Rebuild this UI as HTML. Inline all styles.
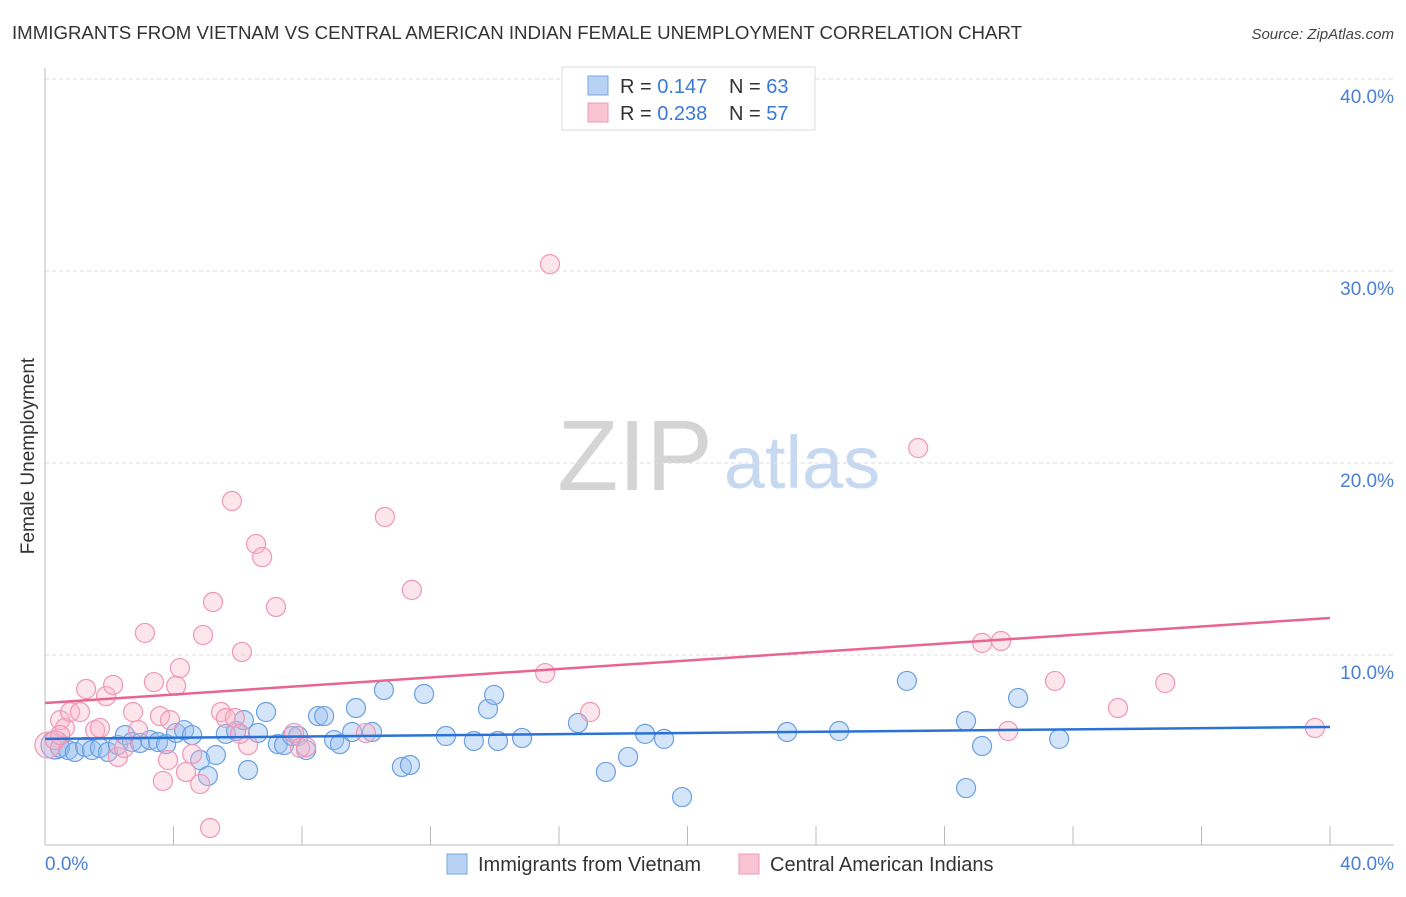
<!DOCTYPE html>
<html><head><meta charset="utf-8"><style>
body{margin:0;background:#fff;font-family:"Liberation Sans",sans-serif;}
svg text{font-family:"Liberation Sans",sans-serif;}
</style></head><body>
<svg id="chart" width="1406" height="892" viewBox="0 0 1406 892" xmlns="http://www.w3.org/2000/svg">
<text x="12" y="39" font-size="18" fill="#333" textLength="1010" lengthAdjust="spacingAndGlyphs">IMMIGRANTS FROM VIETNAM VS CENTRAL AMERICAN INDIAN FEMALE UNEMPLOYMENT CORRELATION CHART</text>
<text x="1394" y="39" font-size="15" fill="#444" font-style="italic" text-anchor="end">Source: ZipAtlas.com</text>
<g>
<text x="635" y="490" font-size="100" fill="#d4d4d4" font-family="Liberation Serif,serif" text-anchor="middle">ZIP</text>
<text x="802" y="488" font-size="74" fill="#c6d9f0" text-anchor="middle">atlas</text>
</g>
<g id="grid"></g>
<g id="axes"></g>
<g id="marks"></g>
<g id="trends"></g>
<text transform="translate(34,456) rotate(-90)" font-size="19" fill="#333" text-anchor="middle">Female Unemployment</text>
<text x="45" y="870" font-size="19" fill="#4a7fd4">0.0%</text>
<text x="1394" y="870" font-size="19" fill="#4a7fd4" text-anchor="end">40.0%</text>
<g>
<rect x="562" y="67" width="253" height="63" fill="#fff" stroke="#ddd"/>
<rect x="588" y="76" width="20" height="19" fill="#b8d2f3" stroke="#7aa7e0"/>
<rect x="588" y="103" width="20" height="19" fill="#f9c4d4" stroke="#ef9ab6"/>
<text x="620" y="93" font-size="20" fill="#333">R = <tspan fill="#3a78d8">0.147</tspan></text>
<text x="729" y="93" font-size="20" fill="#333">N = <tspan fill="#3a78d8">63</tspan></text>
<text x="620" y="120" font-size="20" fill="#333">R = <tspan fill="#3a78d8">0.238</tspan></text>
<text x="729" y="120" font-size="20" fill="#333">N = <tspan fill="#3a78d8">57</tspan></text>
</g>
<g>
<rect x="447" y="854" width="20" height="20" fill="#b8d2f3" stroke="#7aa7e0"/>
<text x="478" y="871" font-size="20" fill="#333">Immigrants from Vietnam</text>
<rect x="739" y="854" width="20" height="20" fill="#f9c4d4" stroke="#ef9ab6"/>
<text x="770" y="871" font-size="20" fill="#333">Central American Indians</text>
</g>
</svg>
<script>
const yTicks=[10,20,30,40];
const yTickLabels=["10.0%","20.0%","30.0%","40.0%"];
const xTicks=[0,4,8,12,16,20,24,28,32,36,40];
const blueX=[0.31,0.47,0.72,0.93,1.25,1.46,1.71,1.96,2.27,2.49,2.71,2.96,3.27,3.52,3.77,4.08,4.33,4.58,4.83,5.07,5.32,5.63,5.95,6.19,6.32,6.63,6.88,7.25,7.44,7.69,7.88,8.13,8.50,8.69,9.00,9.18,9.56,9.68,10.18,10.55,11.11,11.36,11.80,12.48,13.35,13.79,13.98,14.10,14.85,16.59,17.46,18.15,18.68,19.27,19.83,23.10,24.72,26.83,28.67,28.67,29.17,30.29,31.57];
const blueY=[5.31,5.16,5.05,4.95,5.21,5.05,5.16,4.95,5.31,5.83,5.47,5.42,5.57,5.47,5.36,5.94,6.09,5.83,4.53,3.70,4.79,5.89,6.04,6.61,4.01,5.94,7.03,5.36,5.31,5.78,5.78,5.05,6.82,6.82,5.57,5.36,5.99,7.24,5.99,8.18,4.17,4.27,7.97,5.78,5.52,7.19,7.92,5.52,5.68,6.46,3.91,4.69,5.89,5.63,2.60,5.99,6.04,8.65,6.56,3.07,5.26,7.76,5.63];
const pinkX=[0.09,0.31,0.47,0.62,0.78,1.09,1.28,1.56,1.71,1.90,2.12,2.27,2.46,2.74,2.90,3.11,3.39,3.58,3.67,3.83,3.89,4.08,4.20,4.39,4.58,4.83,4.92,5.14,5.23,5.48,5.63,5.82,6.13,6.32,6.57,6.76,7.19,7.75,7.94,8.13,9.99,10.58,11.42,15.72,15.57,16.97,27.18,29.17,29.76,29.98,31.44,33.40,34.87,39.53,5.91,6.07,0.47];
const pinkY=[5.31,5.57,6.61,6.20,7.03,7.03,8.23,6.09,6.20,7.86,8.44,4.69,5.16,7.03,6.09,11.15,8.59,6.82,3.44,4.53,6.61,8.39,9.32,3.91,4.84,3.28,11.04,0.99,12.76,7.03,6.72,18.02,10.16,5.31,15.78,15.10,12.50,5.94,5.16,5.21,5.94,17.19,13.39,30.36,9.06,7.03,20.78,10.63,10.73,6.04,8.65,7.24,8.54,6.20,6.72,5.89,5.83];
const blueTrend=[5.63,6.25];
const pinkTrend=[7.50,11.93];
const NS="http://www.w3.org/2000/svg";
const X0=45,X1=1330,Y0=847,PXY=19.2;
function xs(v){return X0+(v/40)*(X1-X0);}
function ys(v){return Y0-v*PXY;}
function mk(tag,attrs,parent){const e=document.createElementNS(NS,tag);for(const k in attrs)e.setAttribute(k,attrs[k]);parent.appendChild(e);return e;}
const grid=document.getElementById('grid'),axes=document.getElementById('axes'),marks=document.getElementById('marks'),trends=document.getElementById('trends');
yTicks.forEach((t,i)=>{
 const l=mk('line',{x1:X0,x2:1394,y1:ys(t),y2:ys(t),stroke:'#ddd','stroke-dasharray':'4,3'},grid);
 
 
 const tx=mk('text',{x:1394,y:ys(t)+24,'font-size':19,fill:'#4a7fd4','text-anchor':'end'},axes);
 tx.textContent=yTickLabels[i];
 
 
});
const ax=mk('line',{x1:X0,x2:X0,y1:68,y2:845,stroke:'#bbb'},axes);


const bx=mk('line',{x1:X0,x2:1394,y1:845,y2:845,stroke:'#bbb'},axes);


xTicks.forEach(t=>{
 const l=mk('line',{x1:xs(t),x2:xs(t),y1:826,y2:845,stroke:'#bbb'},axes);
 
 
});
blueX.forEach((v,i)=>{
 const c=mk('circle',{cx:xs(v),cy:ys(blueY[i]),r:i===0?14:9.5,fill:'rgba(150,190,240,0.4)',stroke:'#6b9fe2','stroke-width':1.2},marks);
 
 
});
pinkX.forEach((v,i)=>{
 const c=mk('circle',{cx:xs(v),cy:ys(pinkY[i]),r:i===0?13:9.5,fill:'rgba(248,180,200,0.35)',stroke:'#f096b4','stroke-width':1.2},marks);
 
 
});
const bt=mk('line',{x1:xs(0),x2:xs(40),y1:ys(blueTrend[0]),y2:ys(blueTrend[1]),stroke:'#2a72d6','stroke-width':2.5},trends);


const pt=mk('line',{x1:xs(0),x2:xs(40),y1:ys(pinkTrend[0]),y2:ys(pinkTrend[1]),stroke:'#e8658f','stroke-width':2.5},trends);


</script>
</body></html>
